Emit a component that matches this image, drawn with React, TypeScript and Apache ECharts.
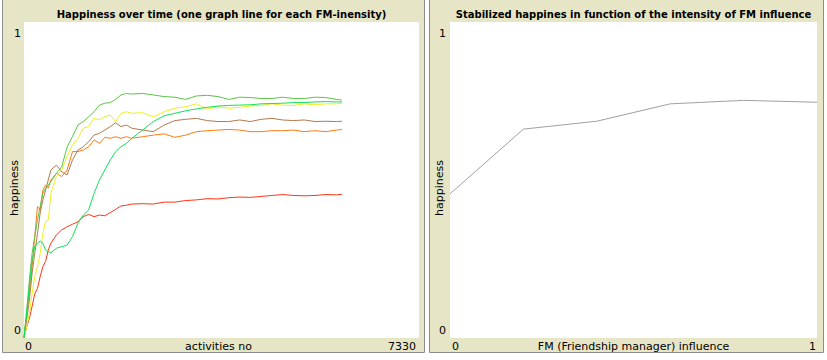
import React, { useEffect, useRef } from "react";
import * as echarts from "echarts";

// activities (shared x samples for the time series)
const activities = [0, 50, 100, 150, 200, 250, 300, 350, 400, 450, 500, 600, 700, 800, 900, 1000, 1100, 1200, 1300, 1400, 1500, 1600, 1700, 1800, 1900, 2000, 2200, 2400, 2600, 2800, 3000, 3200, 3400, 3600, 3800, 4000, 4200, 4400, 4600, 4800, 5000, 5200, 5400, 5600, 5800, 5900];

const happinessFM0 = [0, 0.036, 0.062, 0.1, 0.14, 0.157, 0.194, 0.226, 0.242, 0.278, 0.3, 0.326, 0.342, 0.352, 0.36, 0.368, 0.384, 0.391, 0.384, 0.389, 0.387, 0.397, 0.407, 0.418, 0.42, 0.424, 0.425, 0.424, 0.43, 0.43, 0.435, 0.437, 0.441, 0.44, 0.444, 0.446, 0.445, 0.448, 0.451, 0.454, 0.451, 0.45, 0.451, 0.454, 0.453, 0.455];
const happinessFM02 = [0, 0.078, 0.141, 0.226, 0.321, 0.416, 0.405, 0.468, 0.484, 0.474, 0.5, 0.521, 0.511, 0.532, 0.59, 0.59, 0.595, 0.605, 0.627, 0.616, 0.635, 0.632, 0.637, 0.632, 0.637, 0.632, 0.637, 0.642, 0.646, 0.635, 0.642, 0.653, 0.656, 0.658, 0.66, 0.658, 0.653, 0.653, 0.656, 0.656, 0.658, 0.653, 0.656, 0.653, 0.658, 0.66];
const happinessFM04 = [0, 0.057, 0.12, 0.205, 0.268, 0.331, 0.395, 0.437, 0.468, 0.5, 0.532, 0.547, 0.526, 0.516, 0.563, 0.595, 0.605, 0.621, 0.642, 0.648, 0.658, 0.669, 0.681, 0.669, 0.674, 0.664, 0.658, 0.653, 0.674, 0.688, 0.692, 0.695, 0.688, 0.685, 0.685, 0.69, 0.685, 0.692, 0.695, 0.69, 0.688, 0.69, 0.685, 0.686, 0.685, 0.686];
const happinessFM06 = [0, 0.036, 0.078, 0.141, 0.194, 0.226, 0.268, 0.331, 0.368, 0.373, 0.458, 0.511, 0.532, 0.574, 0.611, 0.632, 0.664, 0.669, 0.695, 0.69, 0.7, 0.706, 0.685, 0.711, 0.716, 0.711, 0.713, 0.7, 0.716, 0.727, 0.732, 0.741, 0.724, 0.732, 0.727, 0.73, 0.734, 0.736, 0.741, 0.737, 0.736, 0.741, 0.738, 0.741, 0.741, 0.743];
const happinessFM08 = [0, 0.089, 0.184, 0.268, 0.321, 0.373, 0.416, 0.458, 0.474, 0.484, 0.495, 0.521, 0.542, 0.605, 0.637, 0.674, 0.685, 0.7, 0.716, 0.737, 0.743, 0.745, 0.755, 0.769, 0.774, 0.772, 0.774, 0.769, 0.764, 0.762, 0.755, 0.766, 0.768, 0.764, 0.755, 0.762, 0.761, 0.758, 0.758, 0.762, 0.758, 0.758, 0.762, 0.761, 0.755, 0.753];
const happinessFM1 = [0, 0.078, 0.162, 0.247, 0.289, 0.3, 0.307, 0.3, 0.278, 0.273, 0.27, 0.284, 0.289, 0.294, 0.321, 0.363, 0.389, 0.405, 0.458, 0.5, 0.532, 0.563, 0.59, 0.605, 0.616, 0.632, 0.658, 0.685, 0.703, 0.711, 0.719, 0.725, 0.73, 0.734, 0.736, 0.737, 0.738, 0.741, 0.742, 0.743, 0.745, 0.745, 0.747, 0.748, 0.747, 0.747];

// stabilized happiness per FM influence
const fmInfluence = [0, 0.2, 0.4, 0.6, 0.8, 1];
const stabilizedHappiness = [0.456, 0.661, 0.686, 0.741, 0.752, 0.746];

const leftYTicks = ["0", "1"];
const leftXTicks = ["0", "7330"];
const rightYTicks = ["0", "1"];
const rightXTicks = ["0", "1"];

const seriesColors = ["#ff3414", "#ff7a10", "#b27a4e", "#eeee22", "#5cc44a", "#10e058"];
const seriesData = [happinessFM0, happinessFM02, happinessFM04, happinessFM06, happinessFM08, happinessFM1];

const FONT = "DejaVu Sans";
const BEIGE = "#e6e6c6";

export default function App() {
  const ref = useRef<HTMLDivElement>(null);
  useEffect(() => {
    if (!ref.current) return;
    const chart = echarts.init(ref.current, null, { renderer: "svg" });
    const L = { left: 24, top: 22, width: 395, height: 316 };
    const R = { left: 450, top: 22, width: 367, height: 316 };
    const txt = (x: number, y: number, text: string, align: string, vAlign: string, extra: any = {}) => ({
      type: "text",
      x,
      y,
      style: { text, font: `11px '${FONT}'`, fill: "#000", textAlign: align, textVerticalAlign: vAlign, ...extra },
    });
    chart.setOption({
      animation: false,
      backgroundColor: "#ffffff",
      grid: [
        { ...L, show: true, backgroundColor: "#ffffff", borderWidth: 0 },
        { ...R, show: true, backgroundColor: "#ffffff", borderWidth: 0 },
      ],
      xAxis: [
        { type: "value", gridIndex: 0, min: 0, max: 7330, show: false },
        { type: "value", gridIndex: 1, min: 0, max: 1, show: false },
      ],
      yAxis: [
        { type: "value", gridIndex: 0, min: 0, max: 1, show: false },
        { type: "value", gridIndex: 1, min: 0, max: 1, show: false },
      ],
      graphic: [
        {
          type: "rect",
          z: -10,
          shape: { x: 2.5, y: -4.5, width: 422, height: 357 },
          style: { fill: BEIGE, stroke: "#8c8c8c", lineWidth: 1 },
        },
        {
          type: "rect",
          z: -10,
          shape: { x: 429.5, y: -4.5, width: 394, height: 357 },
          style: { fill: BEIGE, stroke: "#8c8c8c", lineWidth: 1 },
        },
        txt(L.left + L.width / 2, 14, "Happiness over time (one graph line for each FM-inensity)", "center", "middle", { font: `bold 10px '${FONT}'` }),
        txt(R.left + R.width / 2, 14, "Stabilized happines in function of the intensity of FM influence", "center", "middle", { font: `bold 10px '${FONT}'` }),
        txt(21, 33, leftYTicks[1], "right", "middle"),
        txt(21, 330, leftYTicks[0], "right", "middle"),
        txt(446, 33, rightYTicks[1], "right", "middle"),
        txt(446, 330, rightYTicks[0], "right", "middle"),
        txt(25, 346, leftXTicks[0], "left", "middle"),
        txt(416, 346, leftXTicks[1], "right", "middle"),
        txt(452, 346, rightXTicks[0], "left", "middle"),
        txt(816, 346, rightXTicks[1], "right", "middle"),
        txt(L.left + L.width / 2 - 3, 346, "activities no", "center", "middle"),
        txt(R.left + R.width / 2, 346, "FM (Friendship manager) influence", "center", "middle"),
        {
          type: "text",
          x: 14,
          y: 188,
          rotation: Math.PI / 2,
          style: { text: "happiness", font: `11px '${FONT}'`, fill: "#000", textAlign: "center", textVerticalAlign: "middle" },
        },
        {
          type: "text",
          x: 439,
          y: 188,
          rotation: Math.PI / 2,
          style: { text: "happiness", font: `11px '${FONT}'`, fill: "#000", textAlign: "center", textVerticalAlign: "middle" },
        },
      ],
      series: [
        ...seriesData.map((vals, i) => ({
          type: "line",
          xAxisIndex: 0,
          yAxisIndex: 0,
          data: activities.map((a, j) => [a, vals[j]]),
          symbol: "none",
          lineStyle: { color: seriesColors[i], width: 1 },
          itemStyle: { color: seriesColors[i] },
        })),
        {
          type: "line",
          xAxisIndex: 1,
          yAxisIndex: 1,
          data: fmInfluence.map((f, j) => [f, stabilizedHappiness[j]]),
          symbol: "none",
          lineStyle: { color: "#a0a0a0", width: 1 },
        },
      ],
    });
    return () => chart.dispose();
  }, []);
  return <div ref={ref} style={{ position: "absolute", left: 0, top: 0, width: 827, height: 360 }} />;
}
